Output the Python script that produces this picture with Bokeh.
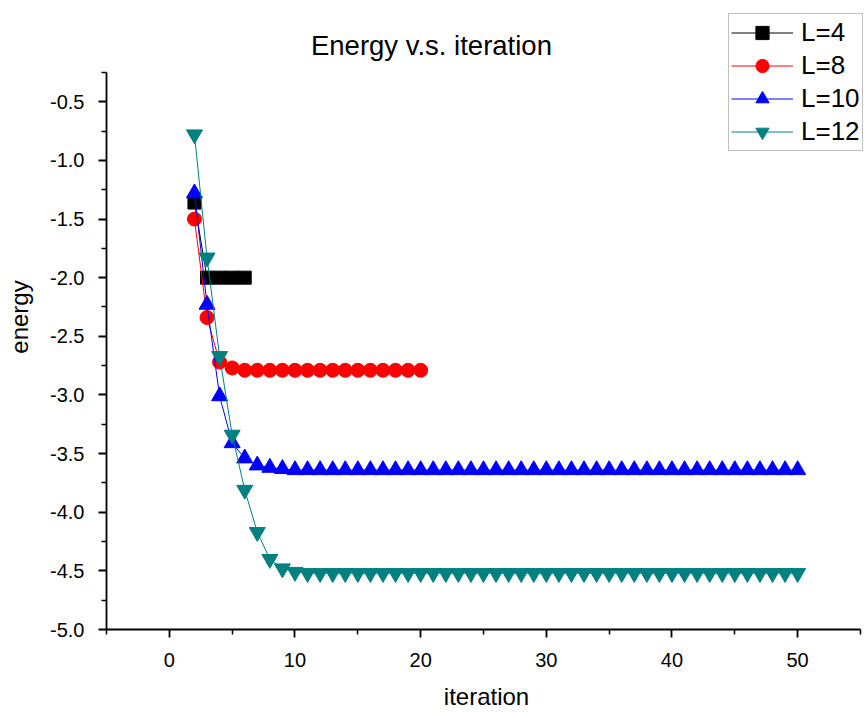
from bokeh.plotting import figure
from bokeh.models import Range1d, FixedTicker, Legend, LegendItem, Label, CustomJSTickFormatter
from bokeh.embed import file_html
from bokeh.resources import INLINE

# ---- data ----
iter_L4 = [2, 3, 4, 5, 6]
energy_L4 = [-1.36, -2.00, -2.00, -2.00, -2.00]

iter_L8 = [2, 3, 4, 5, 6, 7, 8, 9, 10, 11, 12, 13, 14, 15, 16, 17, 18, 19, 20]
energy_L8 = [-1.50, -2.34, -2.72, -2.77, -2.79, -2.79, -2.79, -2.79, -2.79, -2.79,
             -2.79, -2.79, -2.79, -2.79, -2.79, -2.79, -2.79, -2.79, -2.79]

iter_L10 = [2, 3, 4, 5, 6, 7, 8, 9, 10, 11, 12, 13, 14, 15, 16, 17, 18, 19, 20,
            21, 22, 23, 24, 25, 26, 27, 28, 29, 30, 31, 32, 33, 34, 35, 36, 37, 38,
            39, 40, 41, 42, 43, 44, 45, 46, 47, 48, 49, 50]
energy_L10 = [-1.28, -2.23, -3.01, -3.41, -3.54, -3.60, -3.62, -3.63, -3.64, -3.64,
              -3.64, -3.64, -3.64, -3.64, -3.64, -3.64, -3.64, -3.64, -3.64, -3.64,
              -3.64, -3.64, -3.64, -3.64, -3.64, -3.64, -3.64, -3.64, -3.64, -3.64,
              -3.64, -3.64, -3.64, -3.64, -3.64, -3.64, -3.64, -3.64, -3.64, -3.64,
              -3.64, -3.64, -3.64, -3.64, -3.64, -3.64, -3.64, -3.64, -3.64]

iter_L12 = [2, 3, 4, 5, 6, 7, 8, 9, 10, 11, 12, 13, 14, 15, 16, 17, 18, 19, 20,
            21, 22, 23, 24, 25, 26, 27, 28, 29, 30, 31, 32, 33, 34, 35, 36, 37, 38,
            39, 40, 41, 42, 43, 44, 45, 46, 47, 48, 49, 50]
energy_L12 = [-0.78, -1.83, -2.67, -3.34, -3.81, -4.17, -4.40, -4.48, -4.51, -4.52,
              -4.52, -4.52, -4.52, -4.52, -4.52, -4.52, -4.52, -4.52, -4.52, -4.52,
              -4.52, -4.52, -4.52, -4.52, -4.52, -4.52, -4.52, -4.52, -4.52, -4.52,
              -4.52, -4.52, -4.52, -4.52, -4.52, -4.52, -4.52, -4.52, -4.52, -4.52,
              -4.52, -4.52, -4.52, -4.52, -4.52, -4.52, -4.52, -4.52, -4.52]

series_labels = ["L=4", "L=8", "L=10", "L=12"]
title_text = "Energy v.s. iteration"
x_major = [0, 10, 20, 30, 40, 50]
x_minor = [-5, 5, 15, 25, 35, 45, 55]
y_major = [-5.0, -4.5, -4.0, -3.5, -3.0, -2.5, -2.0, -1.5, -1.0, -0.5]
y_minor = [-4.75, -4.25, -3.75, -3.25, -2.75, -2.25, -1.75, -1.25, -0.75, -0.25]

FONT = "Liberation Sans"

# The frame reaches to the top and right edges of the canvas so that the
# title and the legend (outside the axes in the reference) are not clipped;
# the axes themselves are bounded to the reference's extents.
p = figure(width=866, height=712, output_backend="svg", toolbar_location=None,
           x_range=Range1d(-5, 55.48), y_range=Range1d(-5.0, 0.329),
           min_border_left=106, min_border_right=0, min_border_top=4,
           min_border_bottom=82, x_axis_label="iteration", y_axis_label="energy")

p.outline_line_color = None
p.xgrid.visible = False
p.ygrid.visible = False
p.background_fill_color = "white"
p.border_fill_color = "white"

p.xaxis.ticker = FixedTicker(ticks=x_major, minor_ticks=x_minor)
p.yaxis.ticker = FixedTicker(ticks=y_major, minor_ticks=y_minor)
p.yaxis.formatter = CustomJSTickFormatter(code="return tick.toFixed(1);")
p.yaxis.bounds = (-5.0, -0.25)
p.xaxis.bounds = (-5, 55)

for ax in (p.xaxis[0], p.yaxis[0]):
    ax.axis_line_color = "black"
    ax.axis_line_width = 1.8
    ax.major_tick_line_color = "black"
    ax.major_tick_line_width = 1.8
    ax.minor_tick_line_color = "black"
    ax.minor_tick_line_width = 1.5
    ax.major_tick_out = 8
    ax.major_tick_in = 0
    ax.minor_tick_out = 5
    ax.minor_tick_in = 0
    ax.major_label_text_font = FONT
    ax.major_label_text_font_size = "20px"
    ax.major_label_text_color = "black"
    ax.axis_label_text_font = FONT
    ax.axis_label_text_font_style = "normal"
    ax.axis_label_text_font_size = "24px"
    ax.axis_label_text_color = "black"

p.xaxis.major_label_standoff = 15
p.xaxis.axis_label_standoff = 13
p.yaxis.major_label_standoff = 14
p.yaxis.axis_label_standoff = 14

title = Label(x=20.86, y=-0.02, text=title_text, text_font=FONT,
              text_font_size="27.5px", text_color="black",
              text_align="center", text_baseline="middle")
p.add_layout(title)

specs = [
    (iter_L4, energy_L4, "black", "square", 13),
    (iter_L8, energy_L8, "#ff0000", "circle", 14),
    (iter_L10, energy_L10, "#0000ff", "triangle", 16),
    (iter_L12, energy_L12, "#008080", "inverted_triangle", 16),
]

items = []
for (xs, ys, col, mk, sz), lab in zip(specs, series_labels):
    r1 = p.line(xs, ys, line_color=col, line_width=1)
    r2 = p.scatter(xs, ys, marker=mk, size=sz, fill_color=col, line_color=col)
    items.append(LegendItem(label=lab, renderers=[r1, r2]))

legend = Legend(items=items, location=(622, 478))
legend.label_text_font = FONT
legend.label_text_font_size = "26px"
legend.label_text_color = "black"
legend.glyph_width = 62
legend.glyph_height = 33
legend.label_height = 33
legend.label_standoff = 8
legend.spacing = 0
legend.padding = 2
legend.margin = 0
legend.border_line_color = "#808080"
legend.border_line_width = 1.2
legend.background_fill_color = "white"
legend.background_fill_alpha = 1.0
p.add_layout(legend, "center")

open("out.html", "w").write(file_html(p, INLINE))
